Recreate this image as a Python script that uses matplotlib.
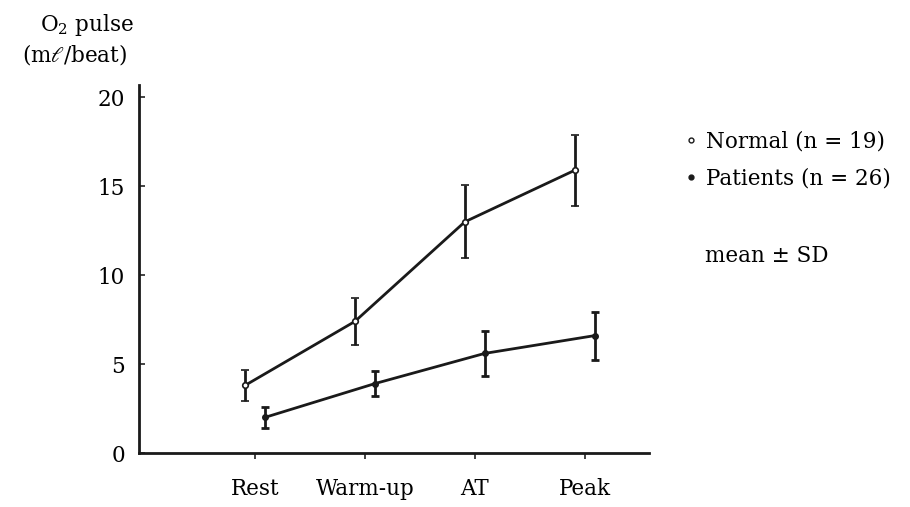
"""
O2 pulse during exercise: normal subjects vs patients (mean ± SD)
"""

import matplotlib
matplotlib.use("Agg")
import matplotlib.pyplot as plt
from matplotlib.lines import Line2D
import numpy as np

# ─────────────────────────────────────────
#  DATA
# ─────────────────────────────────────────
stages        = ["Rest", "Warm-up", "AT", "Peak"]
normal_mean   = [3.8, 7.4, 13.0, 15.9]
normal_sd     = [0.85, 1.3, 2.05, 2.0]
patient_mean  = [2.0, 3.9, 5.6, 6.6]
patient_sd    = [0.6, 0.7, 1.25, 1.35]
y_ticks       = [0, 5, 10, 15, 20]
# ─────────────────────────────────────────

FS = 15.5
plt.rcParams["font.family"] = ["DejaVu Serif"]
plt.rcParams["mathtext.fontset"] = "dejavuserif"

fig = plt.figure(figsize=(9.1, 5.07), dpi=100)
ax = fig.add_axes([0.1527, 0.1065, 0.561, 0.726])

x = np.arange(len(stages))
off = 0.09

ax.errorbar(x - off, normal_mean, yerr=normal_sd, color="#1a1a1a",
            lw=2.0, elinewidth=2.0, capsize=3, capthick=2,
            marker="o", ms=4, mfc="white", mec="#1a1a1a", mew=1.2)
ax.errorbar(x + off, patient_mean, yerr=patient_sd, color="#1a1a1a",
            lw=2.0, elinewidth=2.0, capsize=3, capthick=2,
            marker="o", ms=4, mfc="#1a1a1a", mec="#1a1a1a")

ax.set_xlim(-1.055, 3.59)
ax.set_ylim(0, 20.7)
ax.set_xticks(x)
ax.set_xticklabels(stages, fontsize=FS)
ax.set_yticks(y_ticks)
ax.set_yticklabels([str(t) for t in y_ticks], fontsize=FS)
ax.tick_params(axis="y", direction="in", length=4, width=1.2, color="#222222", pad=10)
ax.tick_params(axis="x", direction="out", length=4, width=1.2, color="#222222", pad=14)

ax.spines["top"].set_visible(False)
ax.spines["right"].set_visible(False)
for s in ("left", "bottom"):
    ax.spines[s].set_linewidth(2.0)
    ax.spines[s].set_color("#1a1a1a")

# y-axis label (two lines, top-left)
fig.text(0.044, 0.977, r"O$_2$ pulse", fontsize=FS, ha="left", va="top")
fig.text(0.024, 0.917, r"(m$\ell$/beat)", fontsize=FS, ha="left", va="top")

# legend
handles = [
    Line2D([], [], ls="none", marker="o", ms=3.5, mfc="white", mec="#1a1a1a", mew=1),
    Line2D([], [], ls="none", marker="o", ms=3.5, mfc="#1a1a1a", mec="#1a1a1a"),
]
fig.legend(handles, ["Normal (n = 19)", "Patients (n = 26)"],
           loc="upper left", bbox_to_anchor=(0.753, 0.742), frameon=False,
           fontsize=FS, handlelength=0.5, handletextpad=0.45, labelspacing=0.7,
           borderaxespad=0, borderpad=0)
fig.text(0.775, 0.495, "mean ± SD", fontsize=FS, ha="left", va="center")

plt.savefig("out.png", dpi=100)
plt.close()
